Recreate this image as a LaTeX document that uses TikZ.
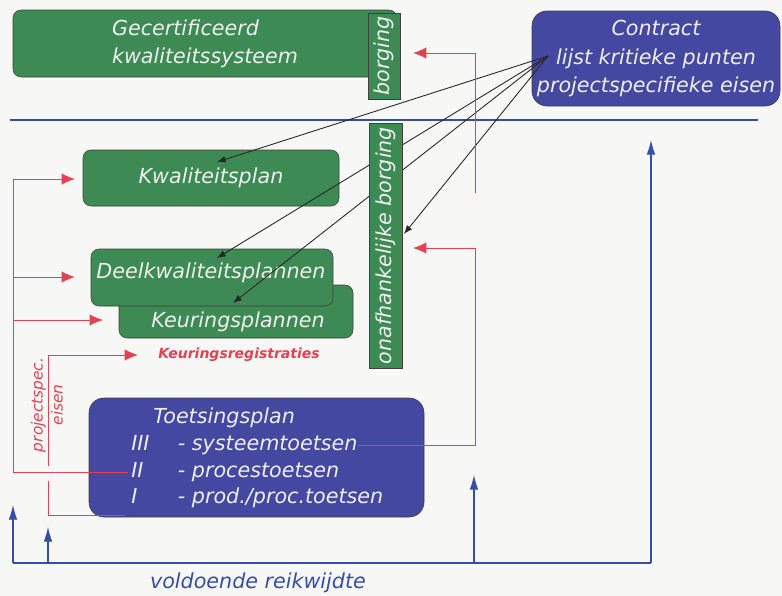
\documentclass[tikz,border=0pt]{standalone}
\usepackage{fontspec}
\setmainfont{DejaVu Sans}
\usepackage{tikz}
\usetikzlibrary{arrows.meta, backgrounds}
\pgfdeclarelayer{front}
\pgfsetlayers{background,main,front}

\definecolor{paper}{RGB}{247,247,245}
\definecolor{boxgreen}{RGB}{62,138,84}
\definecolor{boxblue}{RGB}{68,72,160}
\definecolor{boxtext}{RGB}{238,238,238}
\definecolor{linered}{RGB}{228,66,82}
\definecolor{lineblue}{RGB}{55,78,165}

\tikzset{
  boxfont/.style={font=\itshape\fontsize{15.5}{21}\selectfont},
  greenbox/.style={draw=black!75, fill=boxgreen, rounded corners=6pt, text=boxtext, boxfont, inner sep=0pt},
  bluebox/.style={draw=black!75, fill=boxblue, rounded corners=11pt, text=boxtext, boxfont, inner sep=0pt},
  stripbox/.style={draw=black!75, fill=boxgreen, text=boxtext, boxfont, inner sep=0pt, rotate=90},
  boxlabel/.style={text=boxtext, boxfont, inner sep=0pt},
  pointer/.style={black!85, line width=0.65pt, -{Latex[length=6.5pt,width=5pt]}},
  redline/.style={linered, line width=0.75pt},
  redarrow/.style={redline, -{Latex[length=10pt,width=8.5pt]}},
  blueline/.style={lineblue, line width=0.8pt},
  bluearrow/.style={blueline, -{Latex[length=11pt,width=6.5pt]}}
}

\begin{document}
\begin{tikzpicture}[x=0.75pt, y=-0.75pt]
\fill[paper] (0,0) rectangle (782,596);
\useasboundingbox (0,0) rectangle (782,596);

% upper part
\node[greenbox, minimum width=288pt, minimum height=50.25pt, align=left] (gecert) at (205,43.5) {Gecertificeerd\\kwaliteitssysteem};
\node[stripbox, minimum width=64.5pt, minimum height=24pt] (borg) at (384,56) {borging};
\node[bluebox, minimum width=186pt, minimum height=71.25pt, align=center, font=\itshape\fontsize{15.5}{21.4}\selectfont] (contract) at (656,58.5) {Contract\\lijst kritieke punten\\projectspecifieke eisen};
\draw[blueline] (10,120) -- (758,120);

% plannen
\node[greenbox, minimum width=192pt, minimum height=42pt] (kwal) at (211,178) {Kwaliteitsplan};
\node[greenbox, minimum width=175.5pt, minimum height=39.75pt] (keur) at (236,311.5) {};
\node[boxlabel] (keurtxt) at (238,322) {Keuringsplannen};
\node[greenbox, minimum width=181.5pt, minimum height=42.75pt] (deel) at (212,277.5) {};
\node[boxlabel] (deeltxt) at (211,273) {Deelkwaliteitsplannen};
\begin{pgfonlayer}{front}
\node[stripbox, minimum width=183.75pt, minimum height=24.75pt] (onafh) at (385.5,245.5) {onafhankelijke borging};
\end{pgfonlayer}
\node[linered, font=\bfseries\itshape\fontsize{10.5}{12}\selectfont] (kreg) at (239,355) {Keuringsregistraties};

% toetsing
\node[bluebox, minimum width=251.25pt, minimum height=89.25pt] (toets) at (256.5,457.5) {};
\node[boxlabel, font=\itshape\fontsize{15.5}{20}\selectfont, anchor=west, align=left] (toetstxt) at (131,458)
  {\hspace*{16.5pt}Toetsingsplan\\\makebox[35pt][l]{III}- systeemtoetsen\\\makebox[35pt][l]{II}- procestoetsen\\\makebox[35pt][l]{I}- prod./proc.toetsen};
\node[linered, rotate=90, align=center, inner sep=0pt, font=\itshape\fontsize{11.5}{15}\selectfont] (projeisen) at (47,405) {projectspec.\\eisen};
\node[lineblue, font=\itshape\fontsize{15.5}{18}\selectfont] (reik) at (258,583) {voldoende reikwijdte};

% punten uit het contract
\coordinate (src) at (548,56);
\coordinate (kwaltip) at (217,162);
\coordinate (deeltip) at (217,258);
\coordinate (keurtip) at (233,303);
\coordinate (onafhtip) at (404,234);
\draw[pointer] (src) -- (kwaltip);
\draw[pointer] (src) -- (deeltip);
\draw[pointer] (src) -- (keurtip);
\draw[pointer] (src) -- (onafhtip);

% terugkoppeling borging
\coordinate (rtop) at (475,193);
\coordinate (borgtip) at (413,53);
\coordinate (sysend) at (358,445);
\coordinate (onafhin) at (413,248);
\draw[redarrow] (rtop) |- (borgtip);
\draw[redarrow] (sysend) -| (475,248) -- (onafhin);

% projectspecifieke eisen
\coordinate (iistart) at (128,472);
\coordinate (lbus) at (13,179);
\coordinate (kwalin) at (75,179);
\coordinate (deelin) at (75,277);
\coordinate (keurin) at (103,320);
\draw[redarrow] (iistart) -| (lbus) -- (kwalin);
\draw[redarrow] (lbus |- deelin) -- (deelin);
\draw[redarrow] (lbus |- keurin) -- (keurin);
\coordinate (ibot) at (125,515);
\coordinate (kregin) at (138,355);
\draw[redline] (ibot) -| (48,481);
\draw[redarrow] (48,466) |- (kregin);

% reikwijdte
\draw[blueline] (13,563) -- (651,563);
\draw[bluearrow] (13,563) -- (13,505);
\draw[bluearrow] (48,563) -- (48,527);
\draw[bluearrow] (474,563) -- (474,475);
\draw[bluearrow] (651,563) -- (651,140);
\end{tikzpicture}
\end{document}
